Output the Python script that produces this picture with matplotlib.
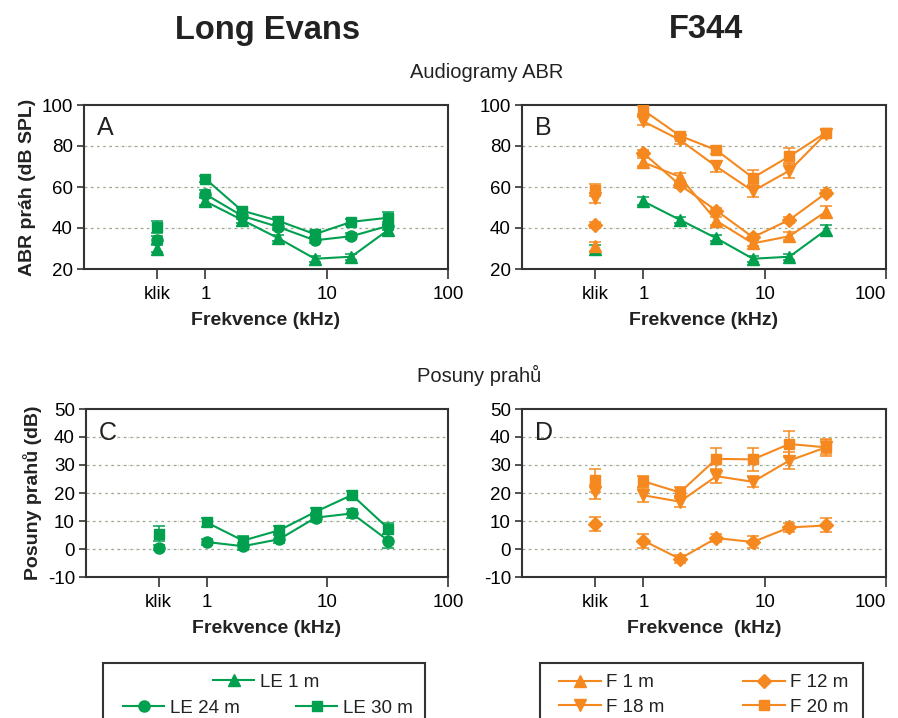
import matplotlib.pyplot as plt
from matplotlib.lines import Line2D
from matplotlib.patches import Rectangle

plt.rcParams['font.family'] = ['Liberation Sans', 'DejaVu Sans']
plt.rcParams['axes.unicode_minus'] = False

GREEN = '#00A04F'
ORANGE = '#F5891F'

freqs = [1, 2, 4, 8, 16, 32]
klik_x = 0.4

# A - thresholds Long Evans (dB SPL): klik value, then per frequency
le1_klik, le1_klik_err = 30, 1.5
le1 = [53, 44, 35, 25, 26, 39]
le1_err = [2, 1.5, 1.5, 1.5, 1.5, 2.5]
le24_klik, le24_klik_err = 34, 2
le24 = [56.5, 46, 40.5, 34, 36, 41]
le24_err = [2, 1.5, 1.5, 1.5, 1.5, 2]
le30_klik, le30_klik_err = 40.5, 3
le30 = [64, 48.5, 43.5, 37, 43, 45]
le30_err = [1.5, 1.5, 2, 1.5, 1.5, 3]

# B - thresholds F344 (dB SPL)
f1_klik, f1_klik_err = 31, 2
f1 = [72, 65, 43.5, 32.5, 36, 48]
f1_err = [2, 2, 2, 1.5, 2, 2.5]
f12_klik, f12_klik_err = 41.5, 1.5
f12 = [76.5, 61, 48.5, 35.5, 44, 57]
f12_err = [1.5, 1.5, 1.5, 1.5, 1.5, 1.5]
f18_klik, f18_klik_err = 54.5, 2.5
f18 = [92, 83, 70, 58, 68, 86]
f18_err = [2, 2, 2.5, 3, 3.5, 2]
f20_klik, f20_klik_err = 58.5, 3
f20 = [97.5, 85, 78, 64.5, 75, 86.5]
f20_err = [2, 1.5, 2, 4, 4, 1.5]

# C - threshold shifts Long Evans (dB)
sh24_klik, sh24_klik_err = 0.5, 1
sh24 = [2.5, 1.0, 3.5, 11.2, 12.7, 3.0]
sh24_err = [1.2, 1.2, 1.5, 1.5, 1.5, 2.5]
sh30_klik, sh30_klik_err = 5.5, 2.7
sh30 = [9.5, 3.0, 6.7, 13.3, 19.3, 7.3]
sh30_err = [1.5, 1.5, 1.5, 1.5, 1.5, 2]

# D - threshold shifts F344 (dB)
shf12_klik, shf12_klik_err = 8.8, 2.5
shf12 = [3.0, -3.5, 3.9, 2.5, 7.7, 8.4]
shf12_err = [2.5, 1.5, 1.5, 2, 1.5, 2.5]
shf18_klik, shf18_klik_err = 20.4, 2.5
shf18 = [19.2, 16.9, 26.0, 24.0, 31.6, 36.3]
shf18_err = [2.5, 2, 2.5, 2, 3, 2.5]
shf20_klik, shf20_klik_err = 24.5, 4
shf20 = [24.2, 20.2, 32.2, 32.0, 37.5, 36.3]
shf20_err = [2, 2, 4, 4, 4.5, 3]

xtick_pos = [klik_x, 1, 10, 100]
xtick_lab = ['klik', '1', '10', '100']

fig = plt.figure(figsize=(8.98, 7.18), dpi=100)
W, H = 898, 718


def add_ax(x0, y0, x1, y1):
    return fig.add_axes([x0 / W, 1 - y1 / H, (x1 - x0) / W, (y1 - y0) / H])


axA = add_ax(84, 105, 448, 269)
axB = add_ax(522, 105, 886, 269)
axC = add_ax(86, 409, 448, 577)
axD = add_ax(522, 409, 886, 577)


def series(ax, kx, ky, kerr, y, yerr, color, marker, ms=8):
    ax.errorbar(freqs, y, yerr=yerr, color=color, marker=marker, ms=ms,
                lw=1.5, capsize=4, elinewidth=1.1, capthick=1.1, zorder=3)
    ax.errorbar([kx], [ky], yerr=[kerr], color=color, marker=marker, ms=ms,
                lw=0, capsize=4, elinewidth=1.1, capthick=1.1, zorder=3)


def style(ax, ylim, yticks, grid, letter, xlabel='Frekvence (kHz)'):
    ax.set_xscale('log')
    ax.set_xlim(0.1, 100)
    ax.set_ylim(*ylim)
    ax.set_xticks(xtick_pos)
    ax.set_xticklabels(xtick_lab)
    ax.minorticks_off()
    ax.set_yticks(yticks)
    ax.tick_params(axis='both', direction='out', labelsize=13.5, color='#333333',
                   width=1.2, length=5, pad=3)
    ax.tick_params(axis='x', length=7, pad=5)
    for s in ax.spines.values():
        s.set_color('#333333')
        s.set_linewidth(1.5)
    for g in grid:
        ax.axhline(g, color='#a0a0a0', lw=0.9, ls=(0, (2, 3)), zorder=1)
        ax.axhline(g, color='#8fd14f', lw=0.8, ls=(2.5, (0.5, 4.5)), zorder=1)
    ax.text(0.035, 0.93, letter, transform=ax.transAxes, fontsize=18,
            va='top', ha='left', color='#222222')
    ax.set_xlabel(xlabel, fontsize=14, fontweight='bold',
                  color='#222222', labelpad=7)


series(axA, klik_x, le1_klik, le1_klik_err, le1, le1_err, GREEN, '^')
series(axA, klik_x, le24_klik, le24_klik_err, le24, le24_err, GREEN, 'o')
series(axA, klik_x, le30_klik, le30_klik_err, le30, le30_err, GREEN, 's', 7.5)
style(axA, (20, 100), [20, 40, 60, 80, 100], [40, 60, 80], 'A')
axA.set_ylabel('ABR práh (dB SPL)', fontsize=14, fontweight='bold', color='#222222')

series(axB, klik_x, le1_klik, le1_klik_err, le1, le1_err, GREEN, '^')
series(axB, klik_x, f1_klik, f1_klik_err, f1, f1_err, ORANGE, '^')
series(axB, klik_x, f12_klik, f12_klik_err, f12, f12_err, ORANGE, 'D', 7)
series(axB, klik_x, f18_klik, f18_klik_err, f18, f18_err, ORANGE, 'v')
series(axB, klik_x, f20_klik, f20_klik_err, f20, f20_err, ORANGE, 's', 7.5)
style(axB, (20, 100), [20, 40, 60, 80, 100], [40, 60, 80], 'B')

series(axC, klik_x, sh24_klik, sh24_klik_err, sh24, sh24_err, GREEN, 'o')
series(axC, klik_x, sh30_klik, sh30_klik_err, sh30, sh30_err, GREEN, 's', 7.5)
style(axC, (-10, 50), [-10, 0, 10, 20, 30, 40, 50], [0, 10, 20, 30, 40], 'C')
axC.set_ylabel('Posuny prahů (dB)', fontsize=14, fontweight='bold', color='#222222')

series(axD, klik_x, shf12_klik, shf12_klik_err, shf12, shf12_err, ORANGE, 'D', 7)
series(axD, klik_x, shf18_klik, shf18_klik_err, shf18, shf18_err, ORANGE, 'v')
series(axD, klik_x, shf20_klik, shf20_klik_err, shf20, shf20_err, ORANGE, 's', 7.5)
style(axD, (-10, 50), [-10, 0, 10, 20, 30, 40, 50], [0, 10, 20, 30, 40], 'D',
      xlabel='Frekvence  (kHz)')

# the right-hand "100" sits at the figure edge; nudge it inward to keep it whole
for ax in (axB, axD):
    ax.get_xticklabels()[-1].set_horizontalalignment('right')
    ax.get_xticklabels()[-1].set_x(100)

# titles
fig.text(268 / W, 1 - 30 / H, 'Long Evans', fontsize=23.5, fontweight='bold',
         ha='center', va='center', color='#222222')
fig.text(706 / W, 1 - 30 / H, 'F344', fontsize=23.5, fontweight='bold',
         ha='center', va='center', color='#222222')
fig.text(487 / W, 1 - 73 / H, 'Audiogramy ABR', fontsize=14.5,
         ha='center', va='center', color='#222222')
fig.text(479 / W, 1 - 375 / H, 'Posuny prahů', fontsize=14.5,
         ha='center', va='center', color='#222222')


# legends
def handle(color, marker, label, ms=8):
    return Line2D([], [], color=color, marker=marker, ms=ms, lw=1.5, label=label)


for x0, x1 in [(103, 425), (540, 863)]:
    fig.add_artist(Rectangle((x0 / W, -0.05), (x1 - x0) / W, 0.05 + 1 - 663 / H,
                             transform=fig.transFigure, fill=False,
                             edgecolor='#333333', lw=1.5, clip_on=False))

leg_kw = dict(frameon=False, fontsize=13.5, handlelength=2.2, handletextpad=0.3,
              borderpad=0, borderaxespad=0, labelcolor='#222222')
fig.legend(handles=[handle(GREEN, '^', 'LE 1 m')], loc='center',
           bbox_to_anchor=(266 / W, 1 - 682 / H), **leg_kw)
fig.legend(handles=[handle(GREEN, 'o', 'LE 24 m'), handle(GREEN, 's', 'LE 30 m', 7.5)],
           loc='center', ncol=2, columnspacing=3.0,
           bbox_to_anchor=(268 / W, 1 - 708 / H), **leg_kw)
fig.legend(handles=[handle(ORANGE, '^', 'F 1 m'), handle(ORANGE, 'v', 'F 18 m'),
                    handle(ORANGE, 'D', 'F 12 m', 7), handle(ORANGE, 's', 'F 20 m', 7.5)],
           loc='center', ncol=2, columnspacing=4.2, labelspacing=0.4,
           bbox_to_anchor=(704 / W, 1 - 695 / H), **leg_kw)

fig.savefig('out.png', dpi=100)
